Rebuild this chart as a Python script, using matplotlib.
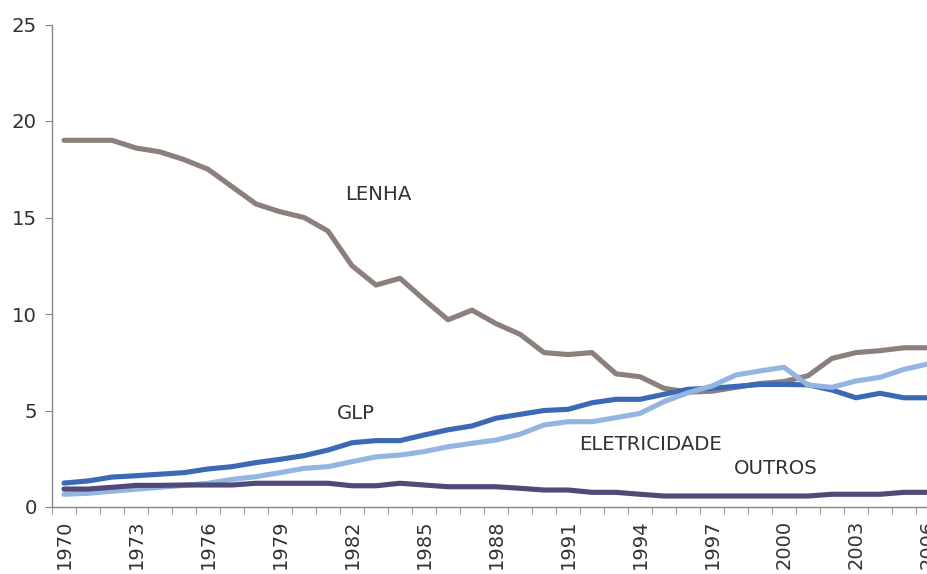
import numpy as np
import matplotlib
matplotlib.use("Agg")
import matplotlib.pyplot as plt

# data
years = list(range(1970, 2007))
lenha = [19.0, 19.0, 19.0, 18.6, 18.4, 18.0, 17.5, 16.6, 15.7, 15.3,
         15.0, 14.3, 12.5, 11.5, 11.85, 10.75, 9.7, 10.2, 9.5, 8.95,
         8.0, 7.9, 8.0, 6.9, 6.75, 6.15, 5.95, 6.0, 6.2, 6.4,
         6.5, 6.8, 7.7, 8.0, 8.1, 8.25, 8.25]
glp = [1.24, 1.35, 1.55, 1.62, 1.7, 1.78, 1.97, 2.09, 2.3, 2.47,
       2.66, 2.95, 3.33, 3.44, 3.44, 3.73, 4.0, 4.2, 4.6, 4.8,
       5.0, 5.06, 5.4, 5.58, 5.58, 5.84, 6.1, 6.15, 6.25, 6.35,
       6.35, 6.33, 6.06, 5.66, 5.89, 5.66, 5.66]
eletricidade = [0.66, 0.71, 0.82, 0.92, 1.02, 1.12, 1.23, 1.43, 1.57, 1.78,
                2.0, 2.09, 2.35, 2.6, 2.69, 2.87, 3.12, 3.3, 3.47, 3.77,
                4.25, 4.42, 4.42, 4.63, 4.85, 5.46, 5.92, 6.27, 6.84, 7.05,
                7.24, 6.32, 6.2, 6.53, 6.72, 7.13, 7.41]
outros = [0.93, 0.93, 1.02, 1.12, 1.12, 1.14, 1.14, 1.14, 1.23, 1.23,
          1.23, 1.23, 1.1, 1.1, 1.23, 1.14, 1.05, 1.05, 1.05, 0.97,
          0.88, 0.88, 0.76, 0.76, 0.66, 0.57, 0.57, 0.57, 0.57, 0.57,
          0.57, 0.57, 0.66, 0.66, 0.66, 0.76, 0.76]

series = [
    ("LENHA", lenha, "#8c7f7c", (11.7, 16.2)),
    ("GLP", glp, "#3c69b6", (11.35, 4.87)),
    ("ELETRICIDADE", eletricidade, "#95b5e1", (21.45, 3.26)),
    ("OUTROS", outros, "#4f4a78", (27.9, 1.97)),
]

text_col = "#333333"
axis_col = "#868686"

fig = plt.figure(figsize=(9.28, 5.74), dpi=100)
# axes runs a little past the right edge, as in the reference
ax = fig.add_axes([52 / 928, 67 / 574, 888 / 928, 482.5 / 574])

x = np.arange(len(years))
for name, vals, col, pos in series:
    ax.plot(x, vals, color=col, lw=3.7, solid_capstyle="round", solid_joinstyle="round")
    ax.text(pos[0], pos[1], name, color=text_col, fontsize=14.2,
            ha="left", va="center")

ax.set_xlim(-0.5, len(years) - 0.5)
ax.set_ylim(0, 25)
ax.set_yticks(range(0, 26, 5))

label_idx = list(range(0, len(years), 3))
ax.set_xticks(label_idx)
ax.set_xticklabels([str(years[i]) for i in label_idx], rotation=90)
ax.set_xticks(np.arange(-0.5, len(years), 1), minor=True)
ax.tick_params(axis="x", which="major", length=0, pad=9,
               labelsize=14, labelcolor=text_col)
ax.tick_params(axis="x", which="minor", length=5, color=axis_col, direction="out")
ax.tick_params(axis="y", length=5, color=axis_col, direction="out",
               labelsize=14.2, labelcolor=text_col, pad=6)

for side in ["top", "right"]:
    ax.spines[side].set_visible(False)
for side in ["left", "bottom"]:
    ax.spines[side].set_color(axis_col)
    ax.spines[side].set_linewidth(1.0)

fig.savefig("out.png", dpi=100)
